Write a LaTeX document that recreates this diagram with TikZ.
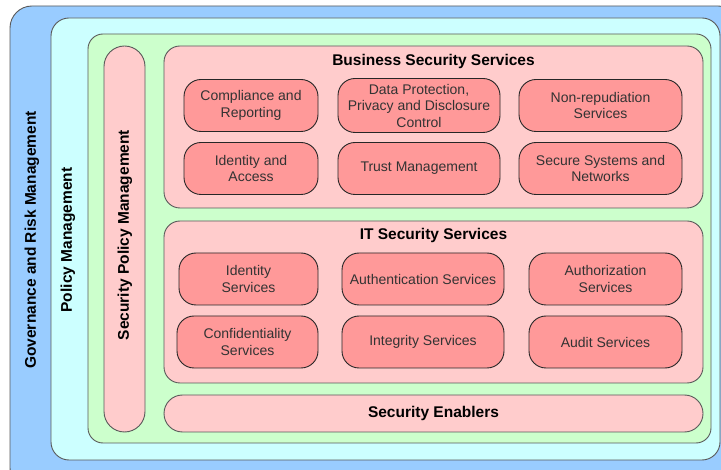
\documentclass[tikz,border=0pt]{standalone}
\usepackage{fontspec}
\setmainfont{Liberation Sans}
\definecolor{govblue}{HTML}{99CCFF}
\definecolor{polcyan}{HTML}{CCFFFF}
\definecolor{secgreen}{HTML}{CCFFCC}
\definecolor{pinkbox}{HTML}{FFCCCC}
\definecolor{svcbox}{HTML}{FF9999}
\definecolor{edge}{HTML}{5A5A5A}
\definecolor{svctext}{HTML}{333333}
\begin{document}
\begin{tikzpicture}[x=1pt,y=-1pt,
  layer/.style={draw=edge, line width=0.9pt, inner sep=0pt, outer sep=0pt},
  svc/.style={draw=black!85, line width=0.9pt, fill=svcbox, rounded corners=17pt,
    minimum height=52pt, inner sep=0pt, align=center, text=svctext,
    font=\fontsize{14}{16.5}\selectfont},
  ttl/.style={font=\fontsize{15.5}{18}\selectfont\bfseries, text=black, inner sep=0pt},
  vttl/.style={ttl, rotate=90}
]
\clip (0,0) rectangle (721,470);
\fill[white] (0,0) rectangle (721,470);
% nested layers
\node[layer, fill=govblue, rounded corners=22pt, minimum width=730pt, minimum height=484pt] (gov) at (375,248) {};
\node[layer, fill=polcyan, rounded corners=18pt, minimum width=669pt, minimum height=442pt] (pol) at (385.5,239) {};
\node[layer, fill=secgreen, rounded corners=15pt, minimum width=623pt, minimum height=409pt] (sec) at (399.5,238.5) {};
\node[layer, fill=pinkbox, rounded corners=20.5pt, minimum width=41pt, minimum height=386pt] (spm) at (124.5,239) {};
\node[layer, fill=pinkbox, rounded corners=16pt, minimum width=539pt, minimum height=162pt] (bss) at (433.5,127) {};
\node[layer, fill=pinkbox, rounded corners=16pt, minimum width=539pt, minimum height=162pt] (its) at (433.5,302) {};
\node[layer, fill=pinkbox, rounded corners=18.5pt, minimum width=539pt, minimum height=37pt] (se) at (433.5,413.5) {};
% layer titles
\node[vttl] (govt) at (32,240) {Governance and Risk Management};
\node[vttl] (polt) at (68,240) {Policy Management};
\node[vttl] (spmt) at (125,235) {Security Policy Management};
\node[ttl] (bsst) at (433.5,61) {Business Security Services};
\node[ttl] (itst) at (433.5,235) {IT Security Services};
\node[ttl] (set) at (433.5,413.5) {Security Enablers};
% business services
\node[svc, minimum width=134pt] (comp) at (251,105.5) {Compliance and\\Reporting};
\node[svc, minimum width=162pt, minimum height=54pt] (data) at (419,105.5) {Data Protection,\\Privacy and Disclosure\\Control};
\node[svc, minimum width=163pt] (nonr) at (600.5,105.5) {Non-repudiation\\Services};
\node[svc, minimum width=134pt] (idac) at (251,168.5) {Identity and\\Access};
\node[svc, minimum width=162pt] (trust) at (419,168.5) {Trust Management};
\node[svc, minimum width=163pt] (ssn) at (600.5,168.5) {Secure Systems and\\Networks};
% IT services
\node[svc, minimum width=139pt] (ids) at (248.5,279) {Identity\\Services};
\node[svc, minimum width=162pt] (auth) at (423,279) {Authentication Services};
\node[svc, minimum width=153pt] (authz) at (605.5,279) {Authorization\\Services};
\node[svc, minimum width=141pt] (conf) at (247.5,342) {Confidentiality\\Services};
\node[svc, minimum width=162pt] (integ) at (423,342) {Integrity Services};
\node[svc, minimum width=153pt] (audit) at (605.5,342) {Audit Services};
\end{tikzpicture}
\end{document}
